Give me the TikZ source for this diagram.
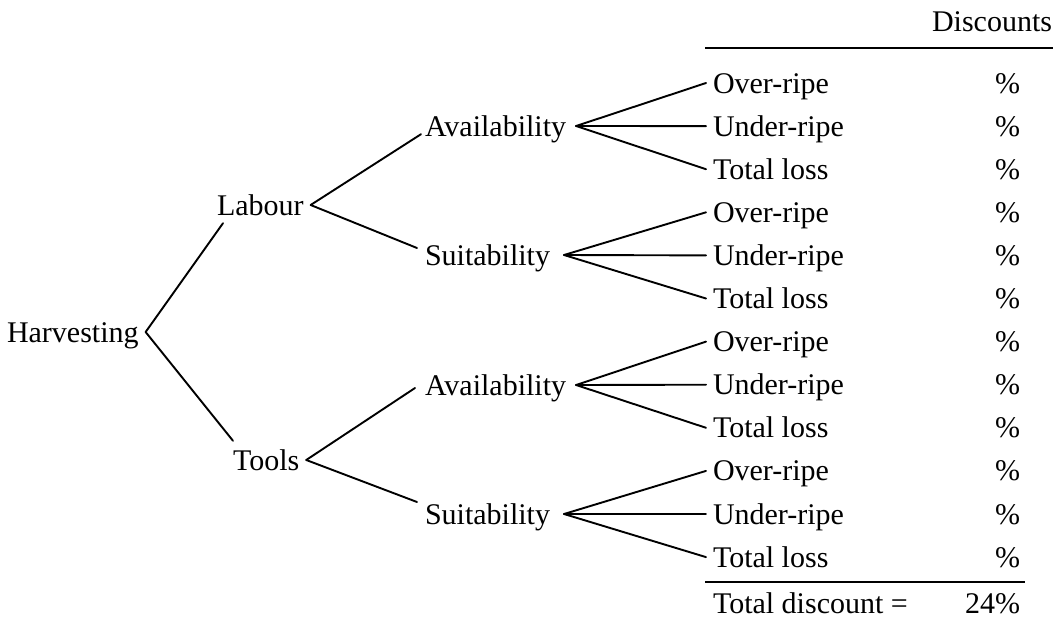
\documentclass[tikz,border=0pt]{standalone}
\usepackage{fontspec}
\setmainfont{Liberation Serif}
\begin{document}
\begin{tikzpicture}[x=1pt,y=-1pt,
  lbl/.style={font=\fontsize{30}{35}\selectfont, inner sep=0pt, text height=20pt, text depth=0pt, anchor=west, outer xsep=7pt},
  midl/.style={lbl, outer xsep=10pt},
  suitl/.style={lbl, outer xsep=14pt},
  pct/.style={lbl, anchor=east, outer xsep=0pt},
  edge/.style={line width=1.9pt, line cap=round},
  rule/.style={line width=1.9pt}]
\useasboundingbox[fill=white] (0,0) rectangle (1062,618);

% header
\node[pct] (disc) at (1052,22) {Discounts};
\coordinate (t1) at (705,48);
\coordinate (t2) at (1053,48);
\draw[rule] (t1) -- (t2);

% tree nodes
\node[lbl] (har) at (0,332) {Harvesting};
\node[lbl] (lab) at (210,205) {Labour};
\node[lbl] (tools) at (226,460) {Tools};
\node[midl] (av1) at (415,126) {Availability};
\node[suitl] (su1) at (411,255) {Suitability};
\node[midl] (av2) at (415,385) {Availability};
\node[suitl] (su2) at (411,514) {Suitability};

% leaves and percentages
\foreach \i/\t in {0/Over-ripe,1/Under-ripe,2/Total loss,3/Over-ripe,4/Under-ripe,5/Total loss,6/Over-ripe,7/Under-ripe,8/Total loss,9/Over-ripe,10/Under-ripe,11/Total loss}{
  \node[lbl] (l\i) at (706,{83+43.1*\i}) {\t};
  \node[pct] (p\i) at (1020,{83+43.1*\i}) {\%};
}

% connectors
\draw[edge] (har.east) -- ([xshift=13pt,yshift=-8pt]lab.south west);
\draw[edge] (har.east) -- ([xshift=7pt,yshift=9pt]tools.north west);
\draw[edge] (lab.east) -- ([xshift=6pt,yshift=2pt]av1.south west);
\draw[edge] (lab.east) -- ([xshift=6pt,yshift=7pt]su1.west);
\draw[edge] (tools.east) -- ([yshift=-3pt]av2.west);
\draw[edge] (tools.east) -- ([xshift=6pt,yshift=12pt]su2.west);
\foreach \m/\a in {av1/0,su1/3,av2/6,su2/9}{
  \foreach \k in {0,1,2}{
    \pgfmathtruncatemacro\j{\a+\k}
    \draw[edge] (\m.east) -- (l\j.west);
  }
}

% total
\coordinate (b1) at (705,582);
\coordinate (b2) at (1025,582);
\draw[rule] (b1) -- (b2);
\node[lbl] (tot) at (706,603) {Total discount =};
\node[pct] (tp) at (1020,603) {24\%};
\end{tikzpicture}
\end{document}
